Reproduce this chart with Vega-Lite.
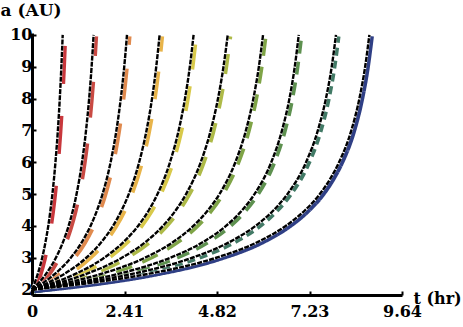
{
  "$schema": "https://vega.github.io/schema/vega-lite/v6.json",
  "width": 370,
  "height": 262,
  "autosize": "none",
  "padding": {"left": 32, "top": 33, "right": 61, "bottom": 32},
  "background": "white",
  "config": {"view": {"stroke": null}, "font": "DejaVu Serif"},
  "data": {"values": [
    {"c":1,"t":0,"a":2},{"c":1,"t":0.083,"a":2.25},{"c":1,"t":0.153,"a":2.5},{"c":1,"t":0.266,"a":3},{"c":1,"t":0.353,"a":3.5},{"c":1,"t":0.424,"a":4},{"c":1,"t":0.482,"a":4.5},{"c":1,"t":0.532,"a":5},{"c":1,"t":0.611,"a":6},{"c":1,"t":0.674,"a":7},{"c":1,"t":0.724,"a":8},{"c":1,"t":0.765,"a":9},{"c":1,"t":0.8,"a":10},
    {"c":2,"t":0,"a":2},{"c":2,"t":0.203,"a":2.25},{"c":2,"t":0.369,"a":2.5},{"c":2,"t":0.623,"a":3},{"c":2,"t":0.81,"a":3.5},{"c":2,"t":0.954,"a":4},{"c":2,"t":1.068,"a":4.5},{"c":2,"t":1.161,"a":5},{"c":2,"t":1.303,"a":6},{"c":2,"t":1.408,"a":7},{"c":2,"t":1.489,"a":8},{"c":2,"t":1.553,"a":9},{"c":2,"t":1.605,"a":10},
    {"c":3,"t":0,"a":2},{"c":3,"t":0.335,"a":2.25},{"c":3,"t":0.604,"a":2.5},{"c":3,"t":1.011,"a":3},{"c":3,"t":1.304,"a":3.5},{"c":3,"t":1.525,"a":4},{"c":3,"t":1.698,"a":4.5},{"c":3,"t":1.838,"a":5},{"c":3,"t":2.048,"a":6},{"c":3,"t":2.199,"a":7},{"c":3,"t":2.313,"a":8},{"c":3,"t":2.403,"a":9},{"c":3,"t":2.475,"a":10},
    {"c":4,"t":0,"a":2},{"c":4,"t":0.475,"a":2.25},{"c":4,"t":0.853,"a":2.5},{"c":4,"t":1.415,"a":3},{"c":4,"t":1.814,"a":3.5},{"c":4,"t":2.11,"a":4},{"c":4,"t":2.339,"a":4.5},{"c":4,"t":2.521,"a":5},{"c":4,"t":2.792,"a":6},{"c":4,"t":2.984,"a":7},{"c":4,"t":3.127,"a":8},{"c":4,"t":3.237,"a":9},{"c":4,"t":3.325,"a":10},
    {"c":5,"t":0,"a":2},{"c":5,"t":0.641,"a":2.25},{"c":5,"t":1.144,"a":2.5},{"c":5,"t":1.88,"a":3},{"c":5,"t":2.39,"a":3.5},{"c":5,"t":2.764,"a":4},{"c":5,"t":3.047,"a":4.5},{"c":5,"t":3.27,"a":5},{"c":5,"t":3.595,"a":6},{"c":5,"t":3.821,"a":7},{"c":5,"t":3.986,"a":8},{"c":5,"t":4.112,"a":9},{"c":5,"t":4.21,"a":10},
    {"c":6,"t":0,"a":2},{"c":6,"t":0.807,"a":2.25},{"c":6,"t":1.433,"a":2.5},{"c":6,"t":2.341,"a":3},{"c":6,"t":2.962,"a":3.5},{"c":6,"t":3.412,"a":4},{"c":6,"t":3.751,"a":4.5},{"c":6,"t":4.014,"a":5},{"c":6,"t":4.396,"a":6},{"c":6,"t":4.657,"a":7},{"c":6,"t":4.846,"a":8},{"c":6,"t":4.989,"a":9},{"c":6,"t":5.1,"a":10},
    {"c":7,"t":0,"a":2},{"c":7,"t":1.036,"a":2.25},{"c":7,"t":1.826,"a":2.5},{"c":7,"t":2.942,"a":3},{"c":7,"t":3.683,"a":3.5},{"c":7,"t":4.205,"a":4},{"c":7,"t":4.59,"a":4.5},{"c":7,"t":4.884,"a":5},{"c":7,"t":5.298,"a":6},{"c":7,"t":5.574,"a":7},{"c":7,"t":5.768,"a":8},{"c":7,"t":5.911,"a":9},{"c":7,"t":6.02,"a":10},
    {"c":8,"t":0,"a":2},{"c":8,"t":1.299,"a":2.25},{"c":8,"t":2.27,"a":2.5},{"c":8,"t":3.605,"a":3},{"c":8,"t":4.465,"a":3.5},{"c":8,"t":5.054,"a":4},{"c":8,"t":5.48,"a":4.5},{"c":8,"t":5.797,"a":5},{"c":8,"t":6.234,"a":6},{"c":8,"t":6.514,"a":7},{"c":8,"t":6.708,"a":8},{"c":8,"t":6.846,"a":9},{"c":8,"t":6.95,"a":10},
    {"c":9,"t":0,"a":2},{"c":9,"t":1.515,"a":2.25},{"c":9,"t":2.64,"a":2.5},{"c":9,"t":4.176,"a":3},{"c":9,"t":5.156,"a":3.5},{"c":9,"t":5.824,"a":4},{"c":9,"t":6.301,"a":4.5},{"c":9,"t":6.655,"a":5},{"c":9,"t":7.14,"a":6},{"c":9,"t":7.448,"a":7},{"c":9,"t":7.658,"a":8},{"c":9,"t":7.809,"a":9},{"c":9,"t":7.92,"a":10},
    {"c":10,"t":0,"a":2},{"c":10,"t":1.77,"a":2.25},{"c":10,"t":3.06,"a":2.5},{"c":10,"t":4.8,"a":3},{"c":10,"t":5.89,"a":3.5},{"c":10,"t":6.61,"a":4},{"c":10,"t":7.12,"a":4.5},{"c":10,"t":7.5,"a":5},{"c":10,"t":7.78,"a":5.5},{"c":10,"t":8.0,"a":6},{"c":10,"t":8.32,"a":7},{"c":10,"t":8.53,"a":8},{"c":10,"t":8.68,"a":9},{"c":10,"t":8.79,"a":10}
  ]},
  "layer": [
    {
      "mark": {"type": "line", "interpolate": "monotone", "strokeWidth": 4.5, "strokeCap": "butt"},
      "encoding": {
        "x": {"field": "t", "type": "quantitative", "scale": {"domain": [-0.06, 9.58], "nice": false, "zero": false}, "axis": null},
        "y": {"field": "a", "type": "quantitative", "scale": {"domain": [1.875, 10.105], "nice": false, "zero": false}, "axis": null},
        "color": {"field": "c", "type": "nominal", "legend": null,
          "scale": {"domain": [1,2,3,4,5,6,7,8,9,10], "range": ["#c8373c","#c94a43","#e08a4e","#e8b44a","#d8c94a","#aeba48","#7fa447","#5e9150","#427a66","#2f3f85"]}},
        "strokeDash": {"field": "c", "type": "nominal", "legend": null,
          "scale": {"domain": [1,2,3,4,5,6,7,8,9,10], "range": [[38,32],[36,26],[31,24],[28,20],[25,17],[20,15],[17,11],[13,8],[8,5],[1,0]]}}
      }
    },
    {
      "mark": {"type": "line", "interpolate": "monotone", "strokeWidth": 2.6, "color": "white"},
      "encoding": {
        "x": {"field": "t", "type": "quantitative", "scale": {"domain": [0, 9.64], "nice": false, "zero": false}, "axis": null},
        "y": {"field": "a", "type": "quantitative", "scale": {"domain": [1.83, 10.06], "nice": false, "zero": false}, "axis": null},
        "detail": {"field": "c", "type": "nominal"}
      }
    },
    {
      "mark": {"type": "line", "interpolate": "monotone", "strokeWidth": 2.4, "color": "black", "strokeDash": [5, 1.2]},
      "encoding": {
        "x": {"field": "t", "type": "quantitative", "scale": {"domain": [0, 9.64], "nice": false, "zero": false},
          "axis": {"orient": "bottom", "values": [0, 2.41, 4.82, 7.23, 9.64], "labelExpr": "datum.value == 0 ? '0' : format(datum.value, '.2f')",
            "title": "t (hr)", "grid": false, "domainColor": "black", "domainWidth": 3, "tickColor": "black", "tickWidth": 2, "tickSize": -4,
            "labelPadding": 12, "labelFont": "DejaVu Serif", "labelFontWeight": "bold", "labelFontSize": 16, "labelColor": "black",
            "labelFlush": false, "labelOverlap": false, "labelBaseline": "top",
            "titleFont": "DejaVu Serif", "titleFontSize": 16, "titleFontWeight": "bold", "titleColor": "black",
            "titleX": 381, "titleY": 8, "titleAlign": "left", "titleBaseline": "alphabetic", "titleAnchor": null}},
        "y": {"field": "a", "type": "quantitative", "scale": {"domain": [1.83, 10.06], "nice": false, "zero": false},
          "axis": {"orient": "left", "values": [2,3,4,5,6,7,8,9,10], "title": "a (AU)", "grid": false,
            "domainColor": "black", "domainWidth": 3, "tickColor": "black", "tickWidth": 2, "tickSize": -4,
            "labelPadding": 4, "labelFont": "DejaVu Serif", "labelFontWeight": "bold", "labelFontSize": 16, "labelColor": "black",
            "labelFlush": false, "labelOverlap": false,
            "titleFont": "DejaVu Serif", "titleFontSize": 17, "titleFontWeight": "bold", "titleColor": "black",
            "titleAngle": 0, "titleX": -32, "titleY": -18, "titleAlign": "left", "titleBaseline": "alphabetic", "titleAnchor": null}},
        "detail": {"field": "c", "type": "nominal"}
      }
    }
  ],
  "resolve": {"scale": {"x": "independent", "y": "independent", "color": "independent", "strokeDash": "independent"}}
}
